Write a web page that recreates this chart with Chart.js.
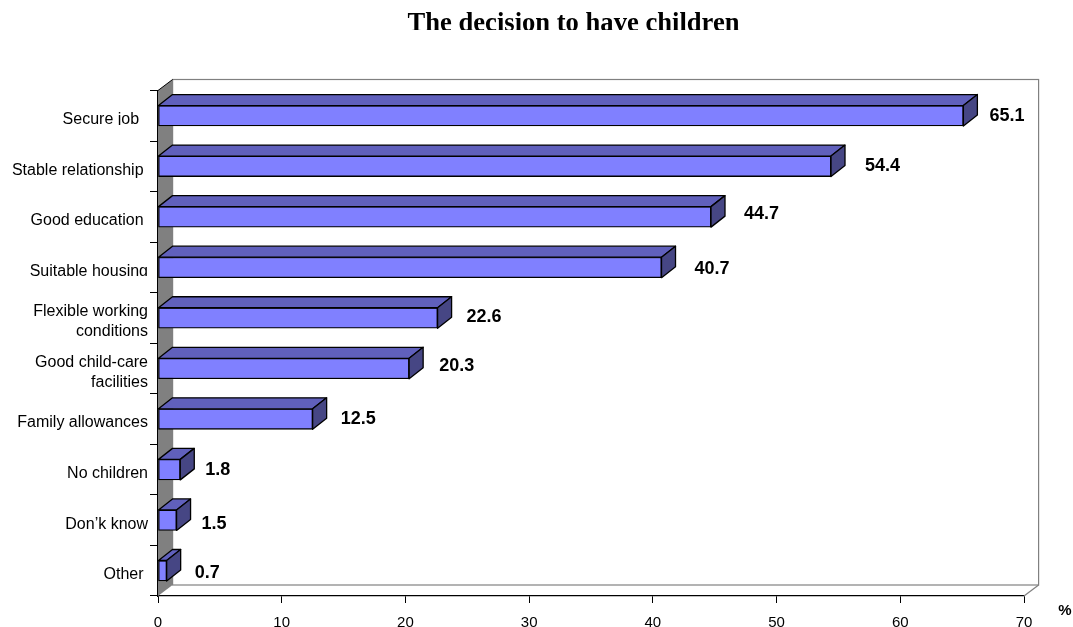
<!DOCTYPE html>
<html><head><meta charset="utf-8">
<style>html,body{margin:0;padding:0;background:#fff}canvas{display:block}</style>
<script src="https://cdn.jsdelivr.net/npm/chart.js@4/dist/chart.umd.min.js"></script>
</head><body><canvas id="c" width="1073" height="627"></canvas>
<script>
const categories = ["Secure job\u00a0\u00a0", "Stable relationship\u00a0", "Good education\u00a0", "Suitable housing",
  ["Flexible working", "conditions"], ["Good child-care", "facilities"], "Family allowances", "No children", "Don’k know", "Other\u00a0"];
const values = [65.1, 54.4, 44.7, 40.7, 22.6, 20.3, 12.5, 1.8, 1.5, 0.7];
const valueTicks = [0, 10, 20, 30, 40, 50, 60, 70];
const titleText = "The decision to have children";
const unitText = "%";
const labelGapX = [26, 34, 33, 33, 29, 30, 28, 25, 25, 28];
const labelShiftY = [0, 0, -3, 2, -1, -2, 0, 0, 4, 2];

const LS = "'Liberation Sans', Arial, sans-serif";
const DX = 14, DY = 11, WDX = 14.6, WDY = 11;

const scene = {
  id: 'scene',
  beforeDatasetsDraw(chart) {
    const { ctx, chartArea: a } = chart;
    ctx.save();
    ctx.strokeStyle = '#808080'; ctx.lineWidth = 1.2;
    ctx.strokeRect(a.left + WDX, a.top - WDY, a.right - a.left, a.bottom - a.top);
    ctx.beginPath();
    ctx.moveTo(a.right, a.bottom); ctx.lineTo(a.right + WDX, a.bottom - WDY); ctx.stroke();
    ctx.fillStyle = '#808080';
    ctx.beginPath();
    ctx.moveTo(a.left, a.top); ctx.lineTo(a.left + WDX, a.top - WDY);
    ctx.lineTo(a.left + WDX, a.bottom - WDY); ctx.lineTo(a.left, a.bottom);
    ctx.closePath(); ctx.fill();
    ctx.strokeStyle = '#000'; ctx.lineWidth = 1;
    ctx.beginPath(); ctx.moveTo(a.left, a.top); ctx.lineTo(a.left + WDX, a.top - WDY); ctx.stroke();
    ctx.restore();
  },
  afterDatasetsDraw(chart) {
    const { ctx } = chart;
    const bars = chart.getDatasetMeta(0).data;
    ctx.save();
    ctx.strokeStyle = '#000'; ctx.lineWidth = 1.3; ctx.lineJoin = 'round';
    bars.forEach((b, i) => {
      const x0 = b.base, x1 = b.x, t = b.y - b.height / 2, m = b.y + b.height / 2;
      ctx.fillStyle = '#6060BC';
      ctx.beginPath();
      ctx.moveTo(x0, t); ctx.lineTo(x0 + DX, t - DY); ctx.lineTo(x1 + DX, t - DY); ctx.lineTo(x1, t);
      ctx.closePath(); ctx.fill(); ctx.stroke();
      ctx.fillStyle = '#464684';
      ctx.beginPath();
      ctx.moveTo(x1, t); ctx.lineTo(x1 + DX, t - DY); ctx.lineTo(x1 + DX, m - DY); ctx.lineTo(x1, m);
      ctx.closePath(); ctx.fill(); ctx.stroke();

      ctx.fillStyle = '#000';
      ctx.font = "bold 18px " + LS;
      ctx.textAlign = 'left'; ctx.textBaseline = 'middle';
      ctx.fillText(values[i].toFixed(1), x1 + labelGapX[i], b.y + labelShiftY[i]);
    });
    ctx.restore();
  },
  afterDraw(chart) {
    const { ctx } = chart;
    ctx.save();
    // the reference crops the title and two category labels along their lower edge
    ctx.fillStyle = '#fff';
    ctx.fillRect(0, 125, 150, 3);
    ctx.fillRect(0, 276, 150, 3);
    ctx.beginPath(); ctx.rect(300, 0, 600, 30); ctx.clip();
    ctx.fillStyle = '#000';
    ctx.font = "bold 26.6px 'Liberation Serif', 'Times New Roman', serif";
    ctx.textAlign = 'center'; ctx.textBaseline = 'alphabetic';
    ctx.fillText(titleText, 573.5, 31);
    ctx.restore();
    ctx.save();
    ctx.fillStyle = '#000';
    ctx.font = "bold 15px " + LS;
    ctx.textAlign = 'center'; ctx.textBaseline = 'middle';
    ctx.fillText(unitText, 1065, 611);
    ctx.restore();
  }
};

new Chart(document.getElementById('c'), {
  type: 'bar',
  data: { labels: categories, datasets: [{
    data: values, backgroundColor: '#8080FF', borderColor: '#000', borderWidth: 1.3,
    barThickness: 20.5, borderSkipped: false
  }]},
  plugins: [scene],
  options: {
    indexAxis: 'y', responsive: false, animation: false, events: [],
    layout: { padding: { left: 0, top: 90.5, right: 49, bottom: 0 } },
    plugins: { legend: { display: false }, title: { display: false }, tooltip: { enabled: false } },
    scales: {
      x: {
        min: 0, max: 70,
        afterBuildTicks(s) { s.ticks = valueTicks.map(v => ({ value: v })); },
        afterFit(s) { s.height = 31; },
        grid: { drawOnChartArea: false, color: '#000', tickLength: 7 },
        border: { color: '#000', width: 1.3 },
        ticks: { color: '#000', font: { family: LS, size: 15 }, padding: 11, maxRotation: 0 }
      },
      y: {
        afterFit(s) { s.width = 158; },
        grid: { drawOnChartArea: false, color: '#000', tickLength: 8 },
        border: { color: '#000', width: 1.3 },
        ticks: { color: '#000', autoSkip: false, padding: 2, labelOffset: 4,
                 font: { family: LS, size: 16, lineHeight: 1.25 } }
      }
    }
  }
});
</script></body></html>
